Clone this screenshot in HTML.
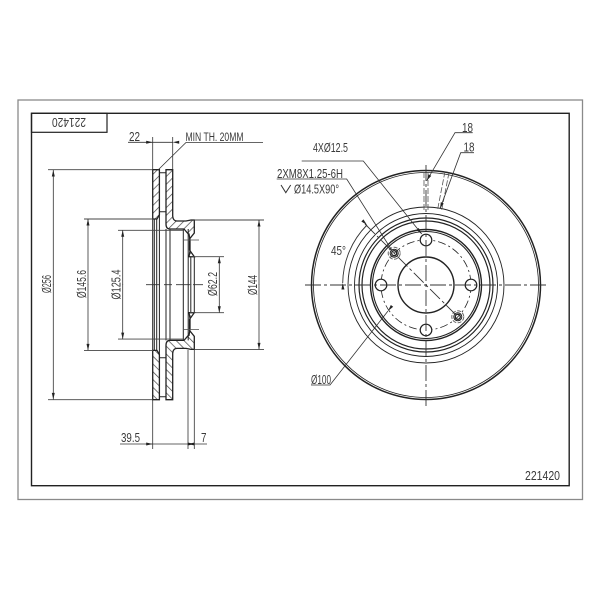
<!DOCTYPE html>
<html><head><meta charset="utf-8"><style>
html,body{margin:0;padding:0;background:#fff}
svg{display:block}
text{font-family:"Liberation Sans",sans-serif;font-size:13px;fill:#3a3a3a}
</style></head><body>
<svg width="600" height="600" viewBox="0 0 600 600" xmlns="http://www.w3.org/2000/svg">
<defs>
<pattern id="h" width="5.5" height="5.5" patternUnits="userSpaceOnUse" patternTransform="rotate(45)">
<rect width="5.5" height="5.5" fill="#fff"/><line x1="0" y1="0" x2="0" y2="5.5" stroke="#444" stroke-width="1.4"/>
</pattern>
<path id="ar" d="M0 0L-1.5 -6.5L1.5 -6.5Z" fill="#222"/>
<g id="half">
<path d="M152.7 169.7H159.4V215L157 219H152.7Z" fill="url(#h)" stroke="#222" stroke-width="1.3"/>
<path d="M166 169.7H172.7V216Q173 221 177 221H186L191 220H194.3V233L189.5 239V250L194.3 256.7H189L190 251V240L189 234H188.3L184 229H170Q166 229 166 224Z" fill="url(#h)" stroke="#222" stroke-width="1.3"/>
<path d="M159.4 172.7H166M159.4 211.7H166" fill="none" stroke="#222" stroke-width="1"/>
<path d="M183.3 229V285M188.2 229V285M190.8 257V285M194.3 256.7V285" fill="none" stroke="#222" stroke-width="1"/>
<path d="M152.7 219V285M154.3 219V285M156.7 219V285M159.4 215V285M166 229V285M170 229V285" fill="none" stroke="#222" stroke-width="1"/>
<path d="M184 240H199" stroke="#555" stroke-width="0.8" fill="none"/>
<path d="M48 169.7H152.7M84 219H153M118 230.3H184M194.3 220H264M190 256.7H224" stroke="#444" stroke-width="0.9" fill="none"/>
<line x1="53.3" y1="170" x2="53.3" y2="285" stroke="#333" stroke-width="0.8"/>
<line x1="88" y1="219" x2="88" y2="285" stroke="#333" stroke-width="0.8"/>
<line x1="122.7" y1="230" x2="122.7" y2="285" stroke="#333" stroke-width="0.8"/>
<line x1="219.3" y1="257" x2="219.3" y2="285" stroke="#333" stroke-width="0.8"/>
<line x1="259" y1="220" x2="259" y2="285" stroke="#333" stroke-width="0.8"/>
<use href="#ar" transform="translate(53.3 170) rotate(180)"/>
<use href="#ar" transform="translate(88 219) rotate(180)"/>
<use href="#ar" transform="translate(122.7 230.3) rotate(180)"/>
<use href="#ar" transform="translate(219.3 256.7) rotate(180)"/>
<use href="#ar" transform="translate(259 220) rotate(180)"/>
</g>
</defs>

<rect width="600" height="600" fill="#fff"/>
<rect x="18" y="100" width="564.5" height="399.5" fill="none" stroke="#8a8a8a" stroke-width="1.3"/>
<rect x="31.5" y="113.3" width="537.7" height="372.4" fill="none" stroke="#222" stroke-width="1.4"/>
<rect x="31.5" y="113.3" width="75.5" height="19" fill="none" stroke="#222" stroke-width="1.2"/>
<text transform="rotate(180 69 122.5)" x="69" y="127.2" text-anchor="middle" textLength="34" lengthAdjust="spacingAndGlyphs">221420</text>

<!-- side view -->
<use href="#half"/>
<use href="#half" transform="translate(0 569.4) scale(1 -1)"/>
<path d="M146 284.7H160M164 284.7H172M176 284.7H190M193 284.7H203" stroke="#333" stroke-width="0.9" fill="none"/>

<!-- top dims -->
<path d="M152.7 169.7V137M172.7 169.7V137M128 142.3H172.7" stroke="#333" stroke-width="0.8" fill="none"/>
<use href="#ar" transform="translate(152.7 142.3) rotate(-90)"/>
<use href="#ar" transform="translate(172.7 142.3) rotate(90)"/>
<text x="129" y="141" textLength="11" lengthAdjust="spacingAndGlyphs">22</text>
<path d="M158 170L186 142.5H263" stroke="#333" stroke-width="0.8" fill="none"/>
<text x="185.5" y="141" style="font-size:11.5px" textLength="58" lengthAdjust="spacingAndGlyphs">MIN TH. 20MM</text>

<!-- bottom dims -->
<path d="M152.7 400V449M188 350V449M194.3 350V449M120 444H207" stroke="#333" stroke-width="0.8" fill="none"/>
<use href="#ar" transform="translate(152.7 444) rotate(-90)"/>
<use href="#ar" transform="translate(188 444) rotate(90)"/>
<use href="#ar" transform="translate(194.3 444) rotate(-90)"/>
<text x="121" y="442" textLength="19" lengthAdjust="spacingAndGlyphs">39.5</text>
<text x="201" y="442" textLength="5.5" lengthAdjust="spacingAndGlyphs">7</text>

<!-- rotated dim labels -->
<text transform="rotate(-90 51 284)" x="51" y="284" text-anchor="middle" textLength="18" lengthAdjust="spacingAndGlyphs">Ø256</text>
<text transform="rotate(-90 86 284)" x="86" y="284" text-anchor="middle" textLength="28" lengthAdjust="spacingAndGlyphs">Ø145.6</text>
<text transform="rotate(-90 120.5 284.5)" x="120.5" y="284.5" text-anchor="middle" textLength="30" lengthAdjust="spacingAndGlyphs">Ø125.4</text>
<text transform="rotate(-90 217 284)" x="217" y="284" text-anchor="middle" textLength="24" lengthAdjust="spacingAndGlyphs">Ø62.2</text>
<text transform="rotate(-90 257 285)" x="257" y="285" text-anchor="middle" textLength="20" lengthAdjust="spacingAndGlyphs">Ø144</text>

<!-- front view -->
<g fill="none" stroke="#222">
<circle cx="426" cy="285" r="114.5" stroke-width="1.5"/>
<circle cx="426" cy="285" r="112.5" stroke-width="0.8"/>
<circle cx="426" cy="285" r="78" stroke-width="0.9"/>
<circle cx="426" cy="285" r="71.5" stroke-width="0.9"/>
<circle cx="426" cy="285" r="67" stroke-width="1.2"/>
<circle cx="426" cy="285" r="64" stroke-width="1.2"/>
<circle cx="426" cy="285" r="55.5" stroke-width="1.4"/>
<circle cx="426" cy="285" r="53.5" stroke-width="1.1"/>
<circle cx="426" cy="285" r="28" stroke-width="1.4"/>
<circle cx="426" cy="285" r="45" stroke-width="0.8" stroke-dasharray="8 3 2 3"/>
<g fill="#fff" stroke-width="1.2">
<circle cx="426" cy="240" r="5.8"/><circle cx="426" cy="330" r="5.8"/>
<circle cx="381" cy="285" r="5.8"/><circle cx="471" cy="285" r="5.8"/>
</g>
<g stroke-width="1">
<circle cx="394.2" cy="253.2" r="2.5" stroke-width="1.3"/><circle cx="394.2" cy="253.2" r="4"/><circle cx="394.2" cy="253.2" r="6" stroke-dasharray="4 1.5" stroke="#666"/>
<circle cx="457.8" cy="316.8" r="2.5" stroke-width="1.3"/><circle cx="457.8" cy="316.8" r="4"/><circle cx="457.8" cy="316.8" r="6" stroke-dasharray="4 1.5" stroke="#666"/>
</g>
<path d="M424 172V212M428 172V212" stroke="#555" stroke-width="0.8" stroke-dasharray="6 2"/>
<path d="M445 171.5L437.5 210M449 172.5L441.5 211" stroke="#555" stroke-width="0.8" stroke-dasharray="6 2"/>
<path d="M305 285H546" stroke="#333" stroke-width="1" stroke-dasharray="16 3 3 3"/>
<path d="M426 165V406" stroke="#333" stroke-width="0.9" stroke-dasharray="16 3 3 3"/>
<path d="M365 224L458 317" stroke="#333" stroke-width="0.9" stroke-dasharray="14 3 3 3"/>
<path d="M342.7 283A84 84 0 0 1 367 225" stroke="#333" stroke-width="0.9"/>
<g stroke="#333" stroke-width="0.8">
<path d="M472.7 132.7H455L426.7 180.7"/>
<path d="M474 152.7H460.7L440 208.7"/>
<path d="M301.7 161H363.3L421.7 234"/>
<path d="M276.7 179H346.7L391.7 250"/>
<path d="M311 385H330L388 311"/>
<path d="M281 185L285.8 192.7L290.7 185" stroke-width="1"/>
</g>
</g>
<use href="#ar" transform="translate(426.7 180.7) rotate(30)"/>
<use href="#ar" transform="translate(440 208.7) rotate(20)"/>
<use href="#ar" transform="translate(421.7 234) rotate(-39)"/>
<use href="#ar" transform="translate(388 311) rotate(38)"/>
<use href="#ar" transform="translate(342.7 283) rotate(178)"/>
<use href="#ar" transform="translate(367 225) rotate(-45)"/>

<text x="462" y="132" textLength="11" lengthAdjust="spacingAndGlyphs">18</text>
<text x="463.5" y="151.5" textLength="11" lengthAdjust="spacingAndGlyphs">18</text>
<text x="313" y="152" textLength="35" lengthAdjust="spacingAndGlyphs">4XØ12.5</text>
<text x="277" y="178" textLength="66" lengthAdjust="spacingAndGlyphs">2XM8X1.25-6H</text>
<text x="294" y="193.5" textLength="45" lengthAdjust="spacingAndGlyphs">Ø14.5X90°</text>
<text x="331" y="255" textLength="15" lengthAdjust="spacingAndGlyphs">45°</text>
<text x="311" y="384" textLength="20" lengthAdjust="spacingAndGlyphs">Ø100</text>
<text x="525" y="480" textLength="35" lengthAdjust="spacingAndGlyphs">221420</text>
</svg>
</body></html>
